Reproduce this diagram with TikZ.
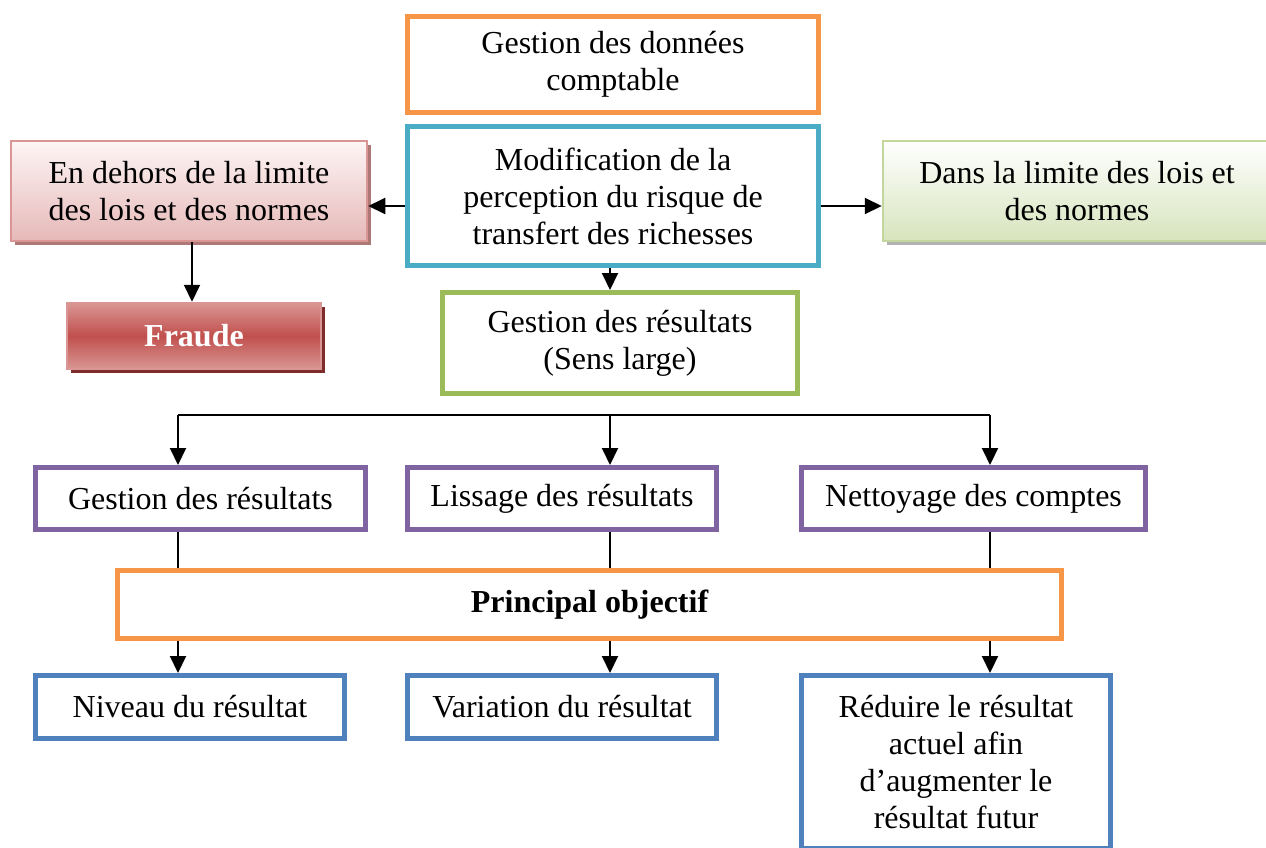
\documentclass[tikz,border=0pt]{standalone}
\usepackage{fontspec}
\setmainfont{Liberation Serif}
\usetikzlibrary{arrows.meta,shadows}

\definecolor{orangeC}{HTML}{F79646}
\definecolor{tealC}{HTML}{4BACC6}
\definecolor{greenC}{HTML}{9BBB59}
\definecolor{purpleC}{HTML}{8064A2}
\definecolor{blueC}{HTML}{4F81BD}
\definecolor{pinkEdge}{HTML}{D99694}
\definecolor{pinkLow}{HTML}{E6B9B8}
\definecolor{pinkTop}{HTML}{FDF5F5}
\definecolor{limeEdge}{HTML}{C3D69B}
\definecolor{limeLow}{HTML}{D7E4BD}
\definecolor{redC}{HTML}{C0504D}
\definecolor{redLight}{HTML}{DA9694}
\definecolor{redShadow}{HTML}{7F2C2A}

\tikzset{
  box/.style={draw, line width=5pt, fill=white, align=center, inner sep=0pt,
    font=\fontsize{32}{37}\selectfont},
  softbox/.style={draw, line width=2.5pt, align=center, inner sep=0pt,
    font=\fontsize{32}{37}\selectfont},
  arr/.style={-{Triangle[length=17pt,width=16pt]}, line width=2pt},
  ln/.style={line width=2pt}
}

\begin{document}
\begin{tikzpicture}[x=1pt,y=-1pt]
\useasboundingbox (0,0) rectangle (1266,847);

% upper chain
\node[box, draw=orangeC, minimum width=411pt, minimum height=96pt] (data) at (613,64.5)
  {Gestion des données\\comptable};
\node[box, draw=tealC, minimum width=411pt, minimum height=139pt] (risk) at (613,196)
  {Modification de la\\perception du risque de\\transfert des richesses};

\node[softbox, draw=pinkEdge, top color=pinkTop, bottom color=pinkLow,
  drop shadow={shadow xshift=4pt, shadow yshift=-4pt, fill=pinkEdge!80!black, opacity=1},
  minimum width=356pt, minimum height=100pt] (outside) at (189,191)
  {En dehors de la limite\\des lois et des normes};
\node[softbox, draw=limeEdge, top color=white, bottom color=limeLow,
  drop shadow={shadow xshift=4pt, shadow yshift=-4pt, fill=gray!60, opacity=1},
  minimum width=388pt, minimum height=100pt] (inside) at (1077,191)
  {Dans la limite des lois et\\des normes};

\node[softbox, draw=redLight, top color=redLight, bottom color=redLight, middle color=redC,
  drop shadow={shadow xshift=4pt, shadow yshift=-4pt, fill=redShadow, opacity=1},
  text=white, font=\fontsize{32}{37}\selectfont\bfseries,
  minimum width=254pt, minimum height=66pt] (fraud) at (194,336) {Fraude};

\node[box, draw=greenC, minimum width=355pt, minimum height=101pt] (broad) at (620,343)
  {Gestion des résultats\\(Sens large)};

% three practices
\node[box, draw=purpleC, minimum width=330pt, minimum height=62pt] (p1) at (200.5,498.5)
  {Gestion des résultats};
\node[box, draw=purpleC, minimum width=309pt, minimum height=62pt] (p2) at (562,498.5)
  {Lissage des résultats};
\node[box, draw=purpleC, minimum width=344pt, minimum height=62pt] (p3) at (973.5,498.5)
  {Nettoyage des comptes};

\node[box, draw=orangeC, minimum width=944pt, minimum height=68pt,
  font=\fontsize{32}{37}\selectfont\bfseries] (goal) at (589.5,604.5) {Principal objectif};

% objectives
\node[box, draw=blueC, minimum width=309pt, minimum height=63pt] (o1) at (190,707)
  {Niveau du résultat};
\node[box, draw=blueC, minimum width=309pt, minimum height=63pt] (o2) at (562,707)
  {Variation du résultat};
\node[box, draw=blueC, minimum width=309pt, minimum height=173pt] (o3) at (956,762)
  {Réduire le résultat\\actuel afin\\d’augmenter le\\résultat futur};

% connectors
\coordinate (yl) at (0,206);
\draw[arr] (risk.west |- yl) -- (outside.east |- yl);
\draw[arr] (risk.east |- yl) -- (inside.west |- yl);
\coordinate (xf) at (192,0);
\draw[arr] (xf |- outside.south) -- (xf |- fraud.north);
\coordinate (xm) at (610,0);
\draw[arr] (xm |- risk.south) -- (xm |- broad.north);

\coordinate (b1) at (178,415);
\coordinate (b2) at (610,415);
\coordinate (b3) at (990,415);
\draw[ln] (b1) -- (b3);
\draw[arr] (b1) -- (b1 |- p1.north);
\draw[arr] (b2) -- (b2 |- p2.north);
\draw[arr] (b3) -- (b3 |- p3.north);

\draw[ln] (b1 |- p1.south) -- (b1 |- goal.north);
\draw[ln] (b2 |- p2.south) -- (b2 |- goal.north);
\draw[ln] (b3 |- p3.south) -- (b3 |- goal.north);

\draw[arr] (b1 |- goal.south) -- (b1 |- o1.north);
\draw[arr] (b2 |- goal.south) -- (b2 |- o2.north);
\draw[arr] (b3 |- goal.south) -- (b3 |- o3.north);
\end{tikzpicture}
\end{document}
